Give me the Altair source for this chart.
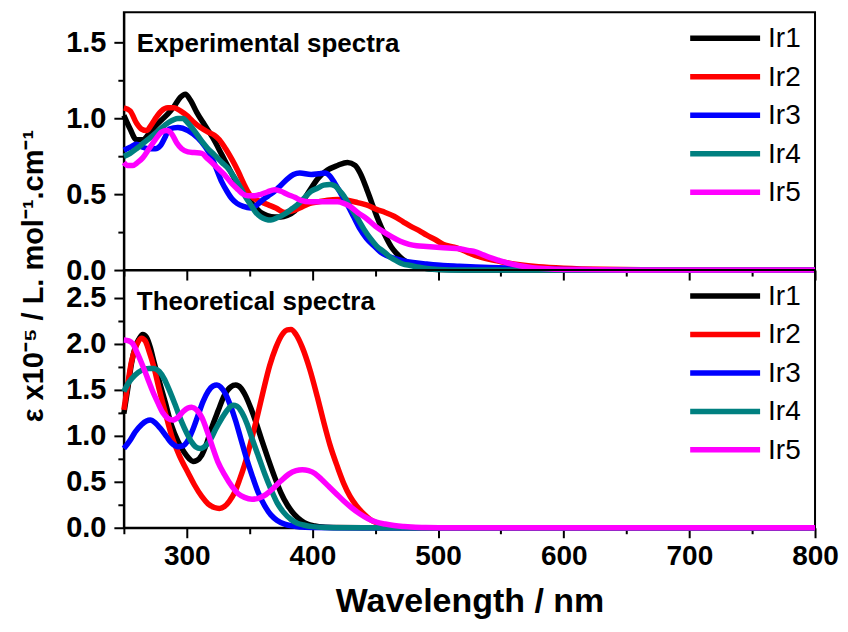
import altair as alt
import pandas as pd

series = ["Ir1", "Ir2", "Ir3", "Ir4", "Ir5"]
colors = ["#000000", "#FF0000", "#0000FF", "#008080", "#FF00FF"]

# ---------------- Experimental spectra ----------------
exp_ir1_wl = [250, 255, 260, 265, 270, 275, 280, 285, 290, 295, 299, 303, 308, 314, 321, 328, 335, 341, 348, 354, 359, 364, 370, 375, 380, 386, 392, 399, 405, 412, 420, 428, 434, 438, 443, 447, 451, 455, 459, 463, 467, 472, 478, 485, 491, 500, 520, 800]
exp_ir1_v = [1.02, 0.93, 0.86, 0.86, 0.90, 0.95, 0.99, 1.03, 1.08, 1.14, 1.16, 1.12, 1.04, 0.96, 0.87, 0.76, 0.65, 0.56, 0.48, 0.42, 0.38, 0.36, 0.35, 0.35, 0.36, 0.39, 0.45, 0.54, 0.61, 0.66, 0.69, 0.71, 0.69, 0.64, 0.54, 0.45, 0.36, 0.28, 0.21, 0.15, 0.11, 0.07, 0.04, 0.02, 0.01, 0.003, 0.0, 0.0]

exp_ir2_wl = [250, 255, 260, 264, 268, 272, 276, 280, 285, 290, 295, 300, 305, 311, 317, 322, 326, 331, 336, 341, 346, 350, 354, 359, 365, 371, 378, 384, 390, 398, 405, 412, 420, 428, 436, 443, 451, 458, 465, 472, 478, 485, 491, 498, 504, 511, 517, 524, 530, 541, 550, 565, 580, 600, 630, 680, 800]
exp_ir2_v = [1.07, 1.05, 0.97, 0.93, 0.92, 0.96, 1.01, 1.05, 1.07, 1.07, 1.05, 1.02, 0.98, 0.94, 0.91, 0.89, 0.86, 0.80, 0.73, 0.65, 0.56, 0.50, 0.47, 0.45, 0.43, 0.41, 0.38, 0.39, 0.41, 0.44, 0.45, 0.46, 0.465, 0.46, 0.445, 0.43, 0.40, 0.38, 0.355, 0.32, 0.29, 0.26, 0.23, 0.20, 0.17, 0.155, 0.14, 0.115, 0.095, 0.07, 0.055, 0.035, 0.022, 0.012, 0.005, 0.002, 0.0]

exp_ir3_wl = [250, 255, 260, 265, 270, 275, 279, 283, 286, 293, 301, 309, 315, 320, 324, 328, 332, 336, 340, 345, 351, 356, 360, 365, 370, 375, 380, 385, 390, 399, 405, 410, 414, 418, 423, 428, 433, 438, 443, 449, 454, 459, 466, 472, 480, 491, 504, 517, 530, 541, 560, 580, 600, 650, 800]
exp_ir3_v = [0.79, 0.81, 0.83, 0.81, 0.80, 0.80, 0.82, 0.88, 0.93, 0.94, 0.92, 0.87, 0.81, 0.74, 0.66, 0.58, 0.52, 0.47, 0.44, 0.42, 0.41, 0.43, 0.46, 0.49, 0.52, 0.56, 0.60, 0.63, 0.64, 0.63, 0.635, 0.64, 0.62, 0.57, 0.50, 0.43, 0.35, 0.27, 0.21, 0.16, 0.12, 0.095, 0.075, 0.062, 0.05, 0.04, 0.03, 0.025, 0.02, 0.017, 0.012, 0.007, 0.004, 0.001, 0.0]

exp_ir4_wl = [250, 255, 260, 266, 272, 279, 285, 293, 297, 301, 306, 312, 317, 322, 328, 333, 338, 343, 347, 351, 355, 359, 363, 367, 372, 378, 383, 388, 393, 399, 404, 409, 414, 418, 422, 425, 430, 436, 441, 446, 451, 457, 462, 467, 472, 478, 485, 491, 500, 520, 800]
exp_ir4_v = [0.75, 0.77, 0.80, 0.84, 0.88, 0.93, 0.97, 1.00, 1.00, 0.97, 0.92, 0.85, 0.80, 0.76, 0.71, 0.67, 0.61, 0.54, 0.48, 0.43, 0.38, 0.35, 0.335, 0.33, 0.345, 0.37, 0.40, 0.43, 0.47, 0.52, 0.54, 0.56, 0.565, 0.555, 0.52, 0.49, 0.42, 0.34, 0.27, 0.21, 0.16, 0.12, 0.085, 0.06, 0.04, 0.03, 0.018, 0.01, 0.004, 0.0, 0.0]

exp_ir5_wl = [250, 253, 257, 261, 265, 270, 275, 280, 284, 288, 292, 296, 301, 306, 312, 316, 320, 325, 330, 336, 341, 345, 349, 354, 359, 364, 370, 375, 380, 386, 391, 398, 404, 412, 420, 425, 430, 436, 443, 450, 457, 463, 470, 477, 483, 491, 499, 508, 517, 524, 530, 536, 541, 548, 556, 565, 575, 590, 610, 650, 800]
exp_ir5_v = [0.71, 0.69, 0.69, 0.71, 0.74, 0.80, 0.86, 0.91, 0.92, 0.90, 0.84, 0.80, 0.78, 0.775, 0.77, 0.74, 0.71, 0.67, 0.63, 0.57, 0.53, 0.50, 0.49, 0.49, 0.50, 0.515, 0.53, 0.52, 0.50, 0.48, 0.46, 0.45, 0.45, 0.45, 0.45, 0.44, 0.42, 0.38, 0.34, 0.29, 0.25, 0.22, 0.19, 0.17, 0.16, 0.155, 0.15, 0.145, 0.14, 0.13, 0.12, 0.10, 0.084, 0.065, 0.045, 0.028, 0.015, 0.007, 0.003, 0.0, 0.0]

# ---------------- Theoretical spectra ----------------
th_ir1_wl = [250, 253, 256, 259, 262, 265, 268, 271, 274, 278, 283, 288, 293, 298, 302, 305, 308, 312, 316, 320, 325, 330, 335, 339, 343, 347, 351, 355, 360, 365, 370, 375, 380, 386, 391, 396, 402, 408, 420, 440, 800]
th_ir1_v = [1.24, 1.50, 1.78, 1.96, 2.05, 2.10, 2.07, 1.96, 1.80, 1.60, 1.36, 1.11, 0.94, 0.82, 0.75, 0.72, 0.73, 0.79, 0.92, 1.09, 1.27, 1.44, 1.53, 1.55, 1.52, 1.43, 1.30, 1.15, 0.94, 0.74, 0.55, 0.38, 0.25, 0.14, 0.08, 0.04, 0.02, 0.008, 0.002, 0.0, 0.0]

th_ir2_wl = [250, 253, 256, 260, 264, 267, 270, 274, 278, 283, 288, 294, 301, 306, 312, 317, 322, 326, 330, 334, 338, 342, 346, 351, 356, 361, 366, 371, 376, 380, 383, 387, 392, 398, 404, 409, 414, 420, 425, 430, 435, 441, 446, 451, 458, 465, 475, 490, 800]
th_ir2_v = [1.28, 1.55, 1.80, 1.98, 2.06, 2.03, 1.92, 1.74, 1.51, 1.25, 1.00, 0.79, 0.60, 0.47, 0.34, 0.26, 0.22, 0.21, 0.23, 0.29, 0.38, 0.52, 0.68, 0.93, 1.20, 1.49, 1.76, 1.96, 2.10, 2.15, 2.155, 2.10, 1.96, 1.72, 1.42, 1.15, 0.90, 0.66, 0.48, 0.34, 0.24, 0.15, 0.09, 0.055, 0.03, 0.013, 0.004, 0.0, 0.0]

th_ir3_wl = [250, 255, 259, 264, 268, 271, 275, 279, 284, 288, 293, 297, 301, 305, 309, 313, 317, 321, 324, 327, 331, 335, 339, 343, 347, 352, 357, 362, 367, 372, 378, 384, 390, 400, 420, 800]
th_ir3_v = [0.86, 0.95, 1.04, 1.12, 1.16, 1.17, 1.14, 1.08, 0.99, 0.92, 0.88, 0.89, 0.95, 1.07, 1.22, 1.37, 1.48, 1.54, 1.55, 1.53, 1.45, 1.32, 1.16, 0.97, 0.78, 0.57, 0.38, 0.24, 0.14, 0.08, 0.04, 0.02, 0.008, 0.002, 0.0, 0.0]

th_ir4_wl = [250, 254, 259, 264, 270, 274, 278, 282, 286, 291, 296, 300, 304, 307, 311, 315, 319, 323, 328, 333, 337, 340, 344, 348, 352, 357, 362, 367, 372, 377, 383, 388, 393, 400, 410, 430, 800]
th_ir4_v = [1.48, 1.58, 1.66, 1.71, 1.73, 1.73, 1.70, 1.62, 1.50, 1.33, 1.15, 1.03, 0.93, 0.88, 0.86, 0.89, 0.96, 1.07, 1.19, 1.29, 1.33, 1.32, 1.25, 1.13, 0.97, 0.78, 0.59, 0.42, 0.27, 0.17, 0.09, 0.05, 0.03, 0.012, 0.003, 0.0, 0.0]

th_ir5_wl = [250, 254, 257, 261, 265, 269, 273, 277, 281, 285, 289, 293, 297, 301, 304, 308, 312, 317, 321, 325, 330, 336, 341, 346, 352, 357, 363, 369, 375, 381, 387, 392, 397, 402, 407, 413, 419, 425, 431, 438, 444, 451, 458, 465, 472, 478, 490, 510, 800]
th_ir5_v = [2.04, 2.03, 2.00, 1.89, 1.76, 1.62, 1.48, 1.36, 1.25, 1.19, 1.17, 1.20, 1.26, 1.30, 1.31, 1.28, 1.20, 1.02, 0.86, 0.71, 0.58, 0.45, 0.37, 0.33, 0.31, 0.32, 0.36, 0.43, 0.51, 0.58, 0.62, 0.63, 0.62, 0.59, 0.53, 0.45, 0.37, 0.29, 0.22, 0.15, 0.10, 0.06, 0.04, 0.025, 0.014, 0.007, 0.003, 0.0, 0.0]

x_major = [300, 400, 500, 600, 700, 800]
x_minor = [250, 350, 450, 550, 650, 750]
top_y_major = [0.0, 0.5, 1.0, 1.5]
top_y_minor = [0.25, 0.75, 1.25]
bot_y_major = [0.0, 0.5, 1.0, 1.5, 2.0, 2.5]
bot_y_minor = [0.25, 0.75, 1.25, 1.75, 2.25]

FONT = "Liberation Sans"
W, H = 692, 258


def build_df(pairs):
    rows = []
    for name, (wl, v) in zip(series, pairs):
        for a, b in zip(wl, v):
            rows.append({"wl": a, "val": b, "series": name})
    return pd.DataFrame(rows)


exp_df = build_df([(exp_ir1_wl, exp_ir1_v), (exp_ir2_wl, exp_ir2_v), (exp_ir3_wl, exp_ir3_v),
                   (exp_ir4_wl, exp_ir4_v), (exp_ir5_wl, exp_ir5_v)])
th_df = build_df([(th_ir1_wl, th_ir1_v), (th_ir2_wl, th_ir2_v), (th_ir3_wl, th_ir3_v),
                  (th_ir4_wl, th_ir4_v), (th_ir5_wl, th_ir5_v)])
legend_df = pd.DataFrame({"series": series})

color_scale = alt.Scale(domain=series, range=colors)


def panel(df, ymax, ymaj, ymin, label, bottom):
    xs = alt.Scale(domain=[250, 800], nice=False, zero=False)
    ys = alt.Scale(domain=[0, ymax], nice=False, zero=False)
    common = dict(domainColor="black", tickColor="black", domainWidth=2, tickWidth=2,
                  grid=False, labelColor="black")
    x_axis = alt.Axis(values=x_major, tickSize=10, labels=bottom, orient="bottom",
                      labelFont=FONT, labelFontSize=28, labelFontWeight="bold", labelPadding=5,
                      labelFlush=False, labelOverlap=False,
                      title="Wavelength / nm" if bottom else None,
                      titleFont=FONT, titleFontSize=34, titleFontWeight="bold",
                      titleColor="black", titlePadding=14, **common)
    y_axis = alt.Axis(values=ymaj, tickSize=10, orient="left", format=".1f",
                      labelFont=FONT, labelFontSize=29, labelFontWeight="bold", labelPadding=8,
                      labelFlush=False, labelOverlap=False, title=None, **common)
    lines = alt.Chart(df).mark_line(strokeWidth=5.5, interpolate="monotone").encode(
        x=alt.X("wl:Q", scale=xs, axis=x_axis),
        y=alt.Y("val:Q", scale=ys, axis=y_axis),
        color=alt.Color("series:N", scale=color_scale, legend=None),
        order=alt.Order("wl:Q"),
    )
    minor = alt.Chart(df).mark_point(opacity=0).encode(
        x=alt.X("wl:Q", scale=xs, axis=alt.Axis(values=x_minor, tickSize=6, labels=False,
                                                 domain=False, title=None, orient="bottom",
                                                 tickColor="black", tickWidth=2, grid=False)),
        y=alt.Y("val:Q", scale=ys, axis=alt.Axis(values=ymin, tickSize=6, labels=False,
                                                  domain=False, title=None, orient="left",
                                                  tickColor="black", tickWidth=2, grid=False)),
    )
    leg_y = alt.Y("series:N", scale=alt.Scale(type="point", domain=series, range=[26, 180], padding=0),
                  axis=None)
    leg_lines = alt.Chart(legend_df).mark_rule(strokeWidth=5.5).encode(
        x=alt.value(567), x2=alt.value(637), y=leg_y,
        color=alt.Color("series:N", scale=color_scale, legend=None),
    )
    leg_text = alt.Chart(legend_df).mark_text(align="left", baseline="middle", font=FONT,
                                              fontSize=28, color="black", dy=1).encode(
        x=alt.value(645), y=leg_y, text="series:N",
    )
    title_txt = alt.Chart(pd.DataFrame({"t": [label]})).mark_text(
        align="left", baseline="alphabetic", font=FONT, fontSize=26, fontWeight="bold",
        color="black").encode(x=alt.value(13), y=alt.value(40), text="t:N")
    layers = [lines, minor, leg_lines, leg_text, title_txt]
    if bottom:
        ytitle = alt.Chart(pd.DataFrame({"t": ["\u03b5 x10\u207b\u2075 / L. mol\u207b\u00b9.cm\u207b\u00b9"]})).mark_text(
            align="center", baseline="middle", angle=270, font=FONT, fontSize=29,
            fontWeight="bold", color="black").encode(x=alt.value(-90), y=alt.value(6), text="t:N")
        layers.append(ytitle)
    return alt.layer(*layers).properties(width=W, height=H).resolve_scale(
        x="independent", y="independent").resolve_axis(x="independent", y="independent")


top = panel(exp_df, 1.7, top_y_major, top_y_minor, "Experimental spectra", False)
bot = panel(th_df, 2.8, bot_y_major, bot_y_minor, "Theoretical spectra", True)

chart = alt.vconcat(top, bot, spacing=0, bounds="flush").resolve_scale(
    x="independent", y="independent"
).properties(
    padding={"left": 10, "top": 3, "right": 0, "bottom": 0}
).configure(
    background="white"
).configure_view(
    stroke="black", strokeWidth=2
)

chart.save("out.html", embed_options={"renderer": "svg", "actions": False})
